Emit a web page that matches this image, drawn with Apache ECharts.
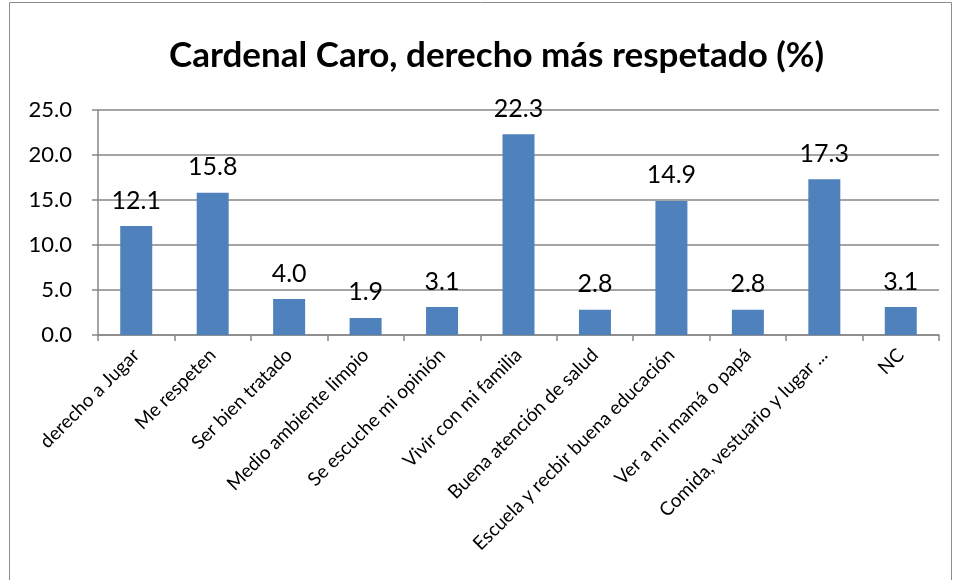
<!DOCTYPE html>
<html>
<head>
<meta charset="utf-8">
<script src="https://cdn.jsdelivr.net/npm/echarts@6/dist/echarts.min.js"></script>
<style>
  html, body { margin: 0; padding: 0; background: #fff; }
  #main { width: 956px; height: 580px; }
</style>
</head>
<body>
<div id="main"></div>
<script>
var categories = ['derecho a Jugar', 'Me respeten', 'Ser bien tratado', 'Medio ambiente limpio',
    'Se escuche mi opinión', 'Vivir con mi familia', 'Buena atención de salud',
    'Escuela y recbir buena educación', 'Ver a mi mamá o papá', 'Comida, vestuario y lugar ...', 'NC'];
var values = [12.1, 15.8, 4.0, 1.9, 3.1, 22.3, 2.8, 14.9, 2.8, 17.3, 3.1];

var chart = echarts.init(document.getElementById('main'));

// 字体用 Lato 代替 Calibri
var font = 'Lato, "Noto Sans", sans-serif';

var option = {
    animation: false,
    title: {
        text: 'Cardenal Caro, derecho más respetado (%)',
        left: 164,
        top: 33,
        textStyle: { fontFamily: font, fontSize: 35, fontWeight: 'bold', color: '#000' }
    },
    graphic: [{
        type: 'rect',
        shape: { x: 9.5, y: 2.5, width: 942, height: 600 },
        style: { fill: 'none', stroke: '#8c8c8c', lineWidth: 1 }
    }],
    grid: { left: 98, right: 17, top: 110, bottom: 245 },
    xAxis: {
        type: 'category',
        data: categories,
        axisLine: { lineStyle: { color: '#868686', width: 1.5 } },
        axisTick: { show: true, length: 6, lineStyle: { color: '#868686', width: 1.5 } },
        axisLabel: { rotate: 45, interval: 0, margin: 17, fontFamily: font, fontSize: 19, color: '#000' }
    },
    yAxis: {
        type: 'value',
        min: 0,
        max: 25,
        interval: 5,
        axisLine: { show: true, lineStyle: { color: '#868686', width: 1.5 } },
        axisTick: { show: true, length: 6, lineStyle: { color: '#868686', width: 1.5 } },
        splitLine: { lineStyle: { color: '#868686', width: 1.5 } },
        axisLabel: {
            margin: 26, fontFamily: font, fontSize: 22, color: '#000',
            formatter: function (v) { return v.toFixed(1); }
        }
    },
    series: [{
        type: 'bar',
        data: values,
        barWidth: 32,
        itemStyle: { color: '#4F81BD' },
        label: {
            show: true,
            position: 'top',
            distance: 13,
            fontFamily: font,
            fontSize: 25,
            color: '#000',
            formatter: function (p) { return p.value.toFixed(1); }
        }
    }]
};
chart.setOption(option);
</script>
</body>
</html>
